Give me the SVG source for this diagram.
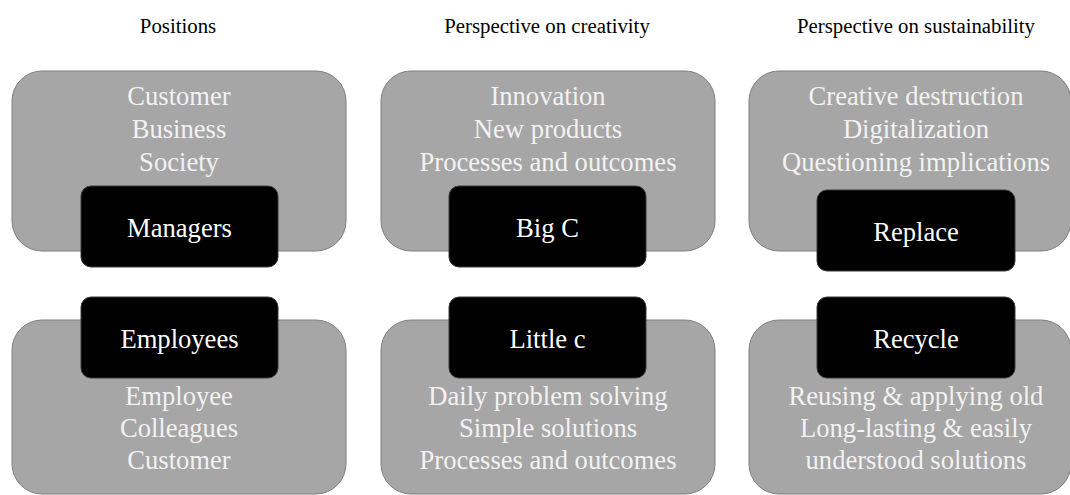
<svg xmlns="http://www.w3.org/2000/svg" width="1070" height="495" viewBox="0 0 1070 495">
<style>
text{font-family:"Liberation Serif","Times New Roman",serif;text-anchor:middle}
.hdr{font-size:20.8px;fill:#000}
.grey{fill:#a6a6a6;stroke:#7f7f7f;stroke-width:1}
.blk{fill:#000;stroke:#3a3a3a;stroke-width:1}
.gt{font-size:26.6px;fill:#f2f2f2}
.bt{font-size:26.6px;fill:#fff}
</style>
<rect width="1070" height="495" fill="#fff"/>
<g id="headers">
<text class="hdr" x="178" y="33">Positions</text>
<text class="hdr" x="547" y="33">Perspective on creativity</text>
<text class="hdr" x="916" y="33">Perspective on sustainability</text>
</g>
<g id="g-top-1"><rect class="grey" x="12" y="71" width="334" height="180" rx="30"/>
<text class="gt" x="179" y="105">Customer</text><text class="gt" x="179" y="138">Business</text><text class="gt" x="179" y="171">Society</text></g>
<g id="g-top-2"><rect class="grey" x="381" y="71" width="334" height="180" rx="30"/>
<text class="gt" x="548" y="105">Innovation</text><text class="gt" x="548" y="138">New products</text><text class="gt" x="548" y="171">Processes and outcomes</text></g>
<g id="g-top-3"><rect class="grey" x="749" y="71" width="322" height="180" rx="30"/>
<text class="gt" x="916" y="105">Creative destruction</text><text class="gt" x="916" y="138">Digitalization</text><text class="gt" x="916" y="171">Questioning implications</text></g>
<g id="g-bot-1"><rect class="grey" x="12" y="320" width="334" height="174" rx="30"/>
<text class="gt" x="179" y="405">Employee</text><text class="gt" x="179" y="437">Colleagues</text><text class="gt" x="179" y="469">Customer</text></g>
<g id="g-bot-2"><rect class="grey" x="381" y="320" width="334" height="174" rx="30"/>
<text class="gt" x="548" y="405">Daily problem solving</text><text class="gt" x="548" y="437">Simple solutions</text><text class="gt" x="548" y="469">Processes and outcomes</text></g>
<g id="g-bot-3"><rect class="grey" x="749" y="320" width="322" height="174" rx="30"/>
<text class="gt" x="916" y="405">Reusing &amp; applying old</text><text class="gt" x="916" y="437">Long-lasting &amp; easily</text><text class="gt" x="916" y="469">understood solutions</text></g>
<g id="managers"><rect class="blk" x="81" y="186" width="197" height="81" rx="10"/><text class="bt" x="179.5" y="237">Managers</text></g>
<g id="bigc"><rect class="blk" x="449" y="186" width="197" height="81" rx="10"/><text class="bt" x="547.5" y="237">Big C</text></g>
<g id="replace"><rect class="blk" x="817" y="190" width="198" height="81" rx="10"/><text class="bt" x="916" y="241">Replace</text></g>
<g id="employees"><rect class="blk" x="81" y="297" width="197" height="81" rx="10"/><text class="bt" x="179.5" y="348">Employees</text></g>
<g id="littlec"><rect class="blk" x="449" y="297" width="197" height="81" rx="10"/><text class="bt" x="547.5" y="348">Little c</text></g>
<g id="recycle"><rect class="blk" x="817" y="297" width="198" height="81" rx="10"/><text class="bt" x="916" y="348">Recycle</text></g>
<g id="connectors"/>
</svg>
